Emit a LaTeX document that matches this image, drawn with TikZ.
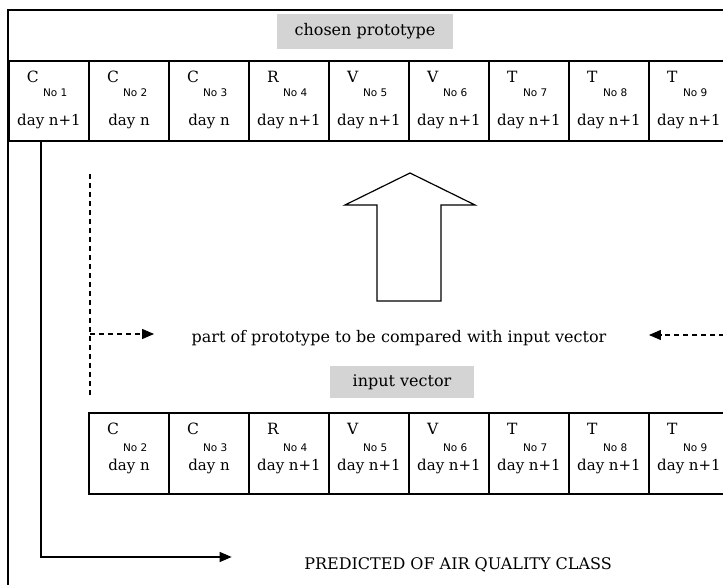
\documentclass[tikz,border=0pt]{standalone}
\usepackage{fontspec}
\setmainfont{DejaVu Serif}
\setsansfont{DejaVu Sans}
\usetikzlibrary{positioning, arrows.meta}
\definecolor{tagfill}{RGB}{212,212,212}
\tikzset{cell node/.style={draw, minimum width=80pt, minimum height=80pt, inner sep=0pt},
  tag node/.style={fill=tagfill, inner sep=0pt},
  letter node/.style={anchor=base west, inner sep=0pt, font=\fontsize{15.5}{17}\selectfont},
  no node/.style={anchor=base west, inner sep=0pt, font=\sffamily\fontsize{10.5}{12}\selectfont},
  day node/.style={anchor=base, inner sep=0pt, font=\fontsize{15}{17}\selectfont},
  arrow line/.style={-{Triangle[length=12pt, width=10pt]}},
  dash line/.style={dash pattern=on 5pt off 4pt},}

\begin{document}
\begin{tikzpicture}[x=1pt, y=-1pt, line width=1.2pt, font=\fontsize{16}{19}\selectfont]
        \useasboundingbox (0,0) rectangle (723,585);
        % Frame
        \draw (723,10) -- (8,10) -- (8,585);
        % Labels
        \node[tag node, minimum width=176pt, minimum height=35pt] (chosen) at (365,31.5) {chosen prototype};
        \node[inner sep=0pt] (cmp) at (399,338) {part of prototype to be compared with input vector};
        \node[tag node, minimum width=144pt, minimum height=32pt] (input) at (402,382) {input vector};
        \node[inner sep=0pt] (pred) at (458,565) {PREDICTED OF AIR QUALITY CLASS};
        % Prototype
        \foreach \i/\l/\d in {1/C/n+1, 2/C/n, 3/C/n, 4/R/n+1, 5/V/n+1, 6/V/n+1, 7/T/n+1, 8/T/n+1, 9/T/n+1} {
            \node[cell node] (p\i) at ({49+80*(\i-1)},101) {};
            \node[letter node] (p\i l) at ([xshift=18pt, yshift=-22pt]p\i.north west) {\l};
            \node[no node] (p\i n) at ([xshift=34pt, yshift=-36pt]p\i.north west) {No \i};
            \node[day node] (p\i d) at ([yshift=-65pt]p\i.north) {day \d};
        }
        \draw[line width=3pt] (p1.north west) -- (p1.south west);
        % Input vector
        \foreach \i/\l/\d in {2/C/n, 3/C/n, 4/R/n+1, 5/V/n+1, 6/V/n+1, 7/T/n+1, 8/T/n+1, 9/T/n+1} {
            \node[cell node, minimum height=81pt] (v\i) at ({49+80*(\i-1)},453.5) {};
            \node[letter node] (v\i l) at ([xshift=18pt, yshift=-22pt]v\i.north west) {\l};
            \node[no node] (v\i n) at ([xshift=34pt, yshift=-39pt]v\i.north west) {No \i};
            \node[day node] (v\i d) at ([yshift=-58pt]v\i.north) {day \d};
        }
        % Big arrow
        \draw (410,173) -- (475,205) -- (441,205) -- (441,301) -- (377,301) -- (377,205) -- (345,205) -- cycle;
        % Compared part
        \coordinate (dtop) at (90,174);
        \coordinate (dbot) at (90,396);
        \coordinate (lhook) at (90,334);
        \coordinate (rhook) at (724,335);
        \draw[dash line] (dtop) -- (dbot);
        \draw[dash line, arrow line] (lhook) -- ([xshift=-37pt, yshift=4pt]cmp.west);
        \draw[dash line, arrow line] (rhook) -- ([xshift=42pt, yshift=3pt]cmp.east);
        % Prediction
        \coordinate (predtip) at ([xshift=-72pt, yshift=8pt]pred.west);
        \draw[arrow line] ([xshift=-8pt]p1.south) |- (predtip);
    \end{tikzpicture}
\end{document}
